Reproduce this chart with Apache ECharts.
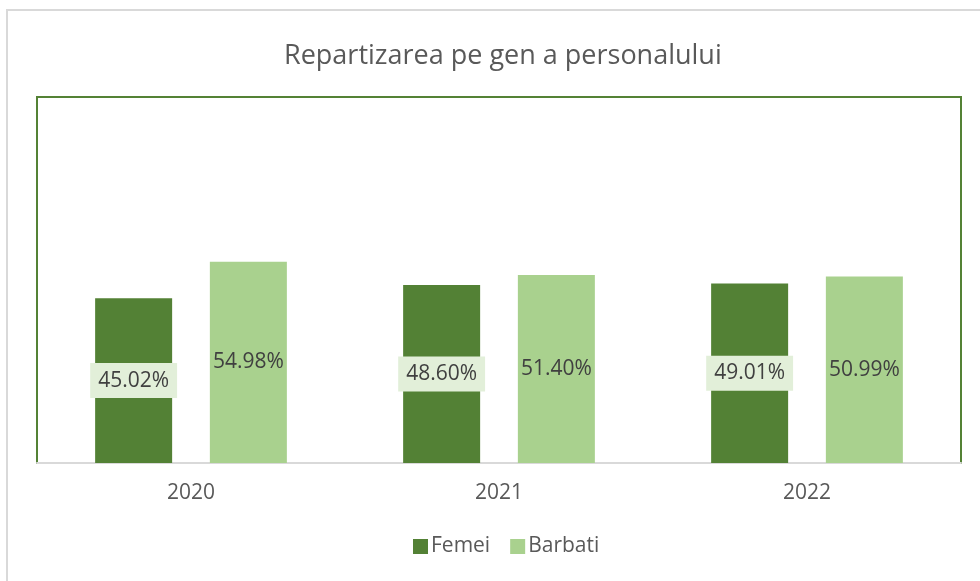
<!DOCTYPE html>
<html>
<head>
<meta charset="utf-8">
<script src="https://cdn.jsdelivr.net/npm/echarts@6/dist/echarts.min.js"></script>
<style>
  html, body { margin: 0; padding: 0; background: #fff; }
  #chart { width: 980px; height: 581px; }
</style>
</head>
<body>
<div id="chart"></div>
<script>
// date
const years = ['2020', '2021', '2022'];
const femei = [45.02, 48.60, 49.01];
const barbati = [54.98, 51.40, 50.99];

const chart = echarts.init(document.getElementById('chart'));

const fmt = p => p.value.toFixed(2) + '%';

const option = {
  backgroundColor: '#fff',
  textStyle: { fontFamily: 'Open Sans' },
  title: {
    text: 'Repartizarea pe gen a personalului',
    left: 279,
    top: 38,
    textStyle: { fontSize: 27, fontWeight: 'normal', color: '#595959', fontFamily: 'Open Sans' }
  },
  graphic: [{
    type: 'rect',
    shape: { x: 7, y: 10, width: 1000, height: 600 },
    style: { fill: 'none', stroke: '#d9d9d9', lineWidth: 2 },
    silent: true,
    z: -1
  }],
  legend: {
    bottom: 19,
    left: 408,
    itemWidth: 15,
    itemHeight: 15,
    itemGap: 20,
    icon: 'rect',
    textStyle: { fontSize: 21, color: '#595959', padding: [0, 0, 0, -2] },
    data: ['Femei', 'Barbati']
  },
  grid: {
    left: 37,
    right: 19,
    top: 97,
    bottom: 118,
    show: true,
    borderColor: '#548235',
    borderWidth: 2
  },
  xAxis: {
    type: 'category',
    data: years,
    axisLine: { lineStyle: { color: '#d9d9d9', width: 2 } },
    axisTick: { show: false },
    axisLabel: { fontSize: 21, color: '#595959', margin: 20 }
  },
  yAxis: {
    type: 'value',
    min: 0,
    max: 100,
    show: false,
    splitLine: { show: false }
  },
  series: [
    {
      name: 'Femei',
      type: 'bar',
      data: femei,
      barWidth: 77,
      barGap: '49%',
      itemStyle: { color: '#538135' },
      label: {
        show: true,
        position: 'inside',
        formatter: fmt,
        fontSize: 21,
        color: '#404040',
        backgroundColor: '#e2efd9',
        padding: [8, 8, 6, 8]
      }
    },
    {
      name: 'Barbati',
      type: 'bar',
      data: barbati,
      barWidth: 77,
      itemStyle: { color: '#a9d18e' },
      label: {
        show: true,
        position: 'inside',
        formatter: fmt,
        fontSize: 21,
        color: '#404040'
      }
    }
  ]
};

chart.setOption(option);
window.addEventListener('resize', () => chart.resize());
</script>
</body>
</html>
